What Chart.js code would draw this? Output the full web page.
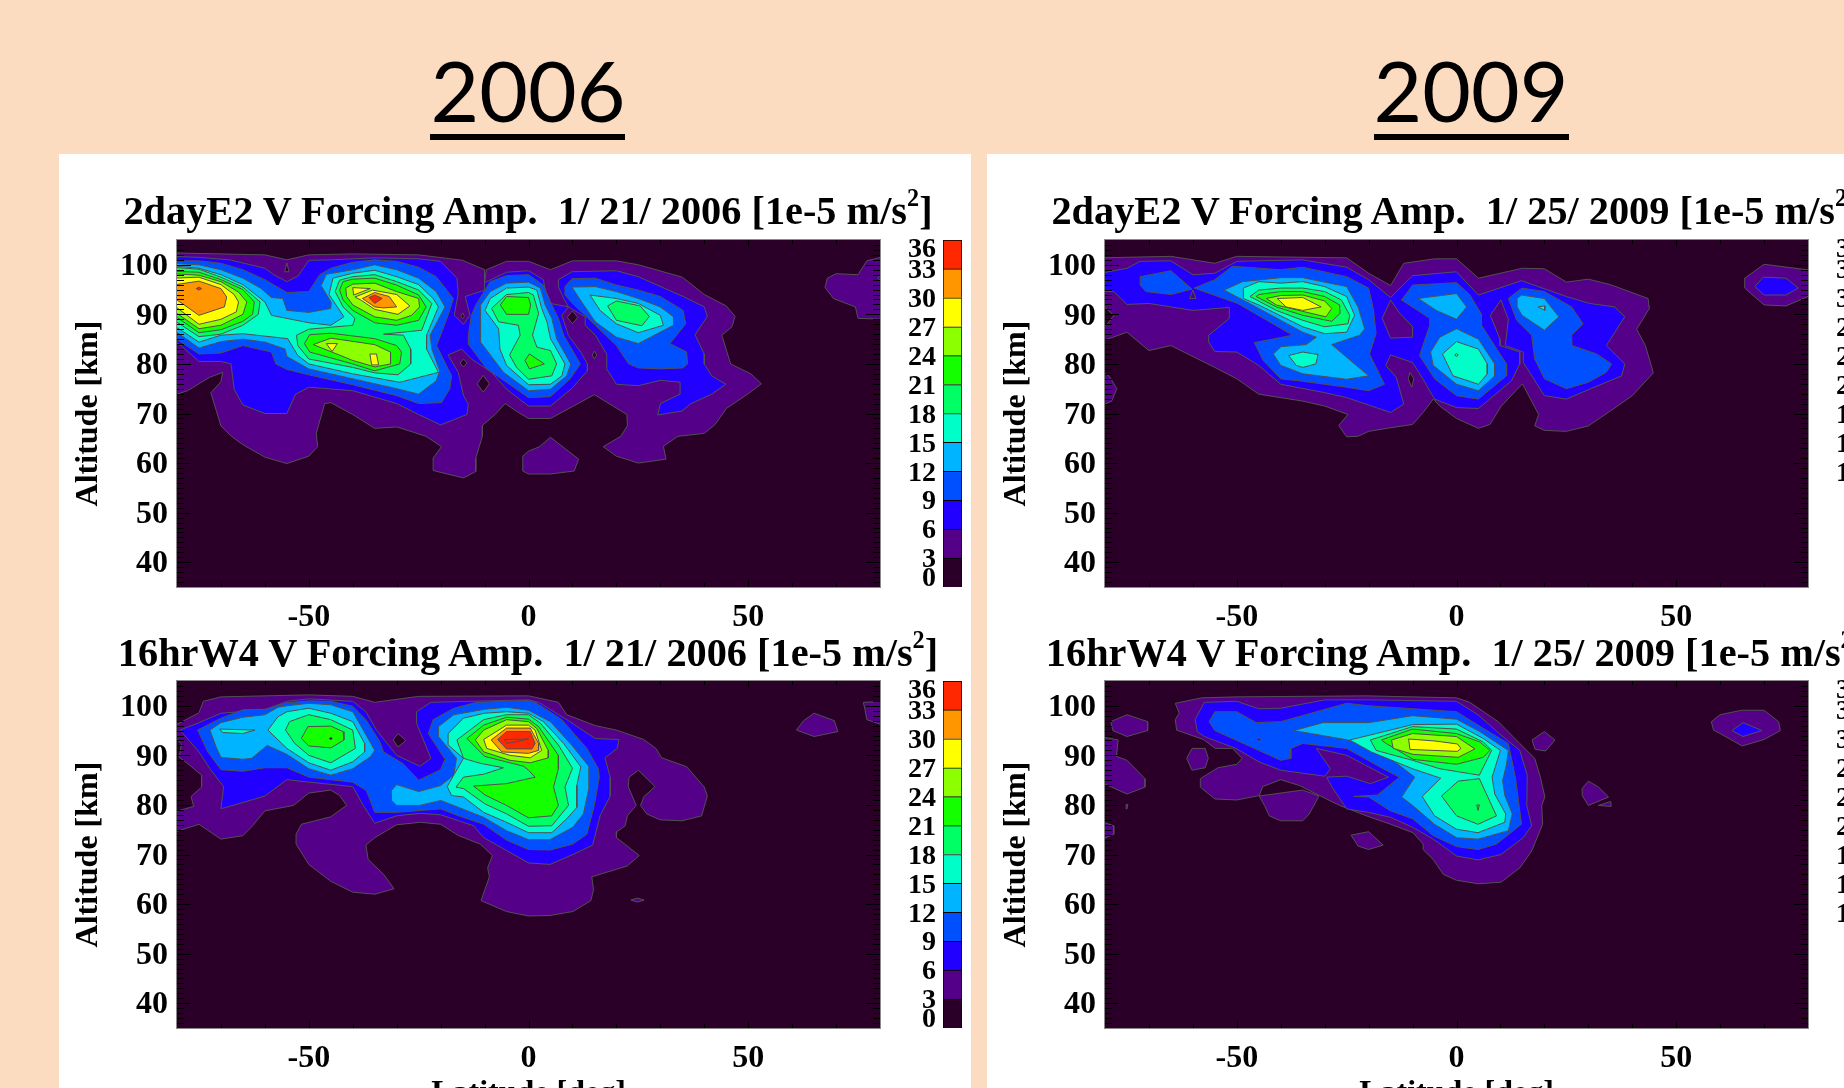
<!DOCTYPE html>
<html>
<head>
<meta charset="utf-8">
<title>V Forcing Amp</title>
<script src="https://cdn.jsdelivr.net/npm/chart.js@4"></script>
<style>
  html, body { margin: 0; padding: 0; width: 1844px; height: 1088px; overflow: hidden; background: #fcdcc1; }
  .sheet { position: absolute; background: #fff; top: 154px; height: 934px; }
  canvas { position: absolute; }
  .year { position: absolute; width: 400px; top: 37px; text-align: center; font: 400 84px Lato, sans-serif; line-height: 105px; color: #000; }
  .rule { position: absolute; top: 134px; width: 195px; height: 6px; background: #000; }
  .title { position: absolute; width: 900px; text-align: center; white-space: pre; font: bold 40.3px "Liberation Serif", serif; line-height: 44px; color: #000; }
  .title sup { font-size: 60%; line-height: 0; vertical-align: 0.75em; }
</style>
</head>
<body>
<div class="sheet" style="left:59px;width:912px"></div>
<div class="sheet" style="left:987px;width:857px"></div>
<div class="year" style="left:328px">2006</div><div class="rule" style="left:430px"></div>
<div class="year" style="left:1271px">2009</div><div class="rule" style="left:1374px"></div>
<canvas id="p1" width="820" height="420" style="left:70px;top:230px"></canvas>
<canvas id="c1" width="80" height="367" style="left:890px;top:230px"></canvas>
<canvas id="p2" width="820" height="420" style="left:998px;top:230px"></canvas>
<canvas id="c2" width="80" height="367" style="left:1818px;top:230px"></canvas>
<canvas id="p3" width="820" height="444" style="left:70px;top:671px"></canvas>
<canvas id="c3" width="80" height="367" style="left:890px;top:671px"></canvas>
<canvas id="p4" width="820" height="444" style="left:998px;top:671px"></canvas>
<canvas id="c4" width="80" height="367" style="left:1818px;top:671px"></canvas>
<div class="title" style="left:78px;top:189px">2dayE2 V Forcing Amp.  1/ 21/ 2006 [1e-5 m/s<sup>2</sup>]</div>
<div class="title" style="left:1006px;top:189px">2dayE2 V Forcing Amp.  1/ 25/ 2009 [1e-5 m/s<sup>2</sup>]</div>
<div class="title" style="left:78px;top:631px">16hrW4 V Forcing Amp.  1/ 21/ 2006 [1e-5 m/s<sup>2</sup>]</div>
<div class="title" style="left:1006px;top:631px">16hrW4 V Forcing Amp.  1/ 25/ 2009 [1e-5 m/s<sup>2</sup>]</div>
<script>
// axis ticks and colour scale
const latTicks = [-50, 0, 50];
const altTicks = [40, 50, 60, 70, 80, 90, 100];
const levelColors = ['#2b0028', '#550088', '#2200ff', '#0050ff', '#00b4ff', '#00ffc8', '#00ff64', '#14ff00', '#8cff00', '#ffff00', '#ff9600', '#ff2800'];
const barBands = [3, 3, 3, 3, 3, 3, 3, 3, 3, 3, 3, 3];
const barLabels = ['0', '3', '6', '9', '12', '15', '18', '21', '24', '27', '30', '33', '36'];
// the 0 and 36 labels sit a bit inside the bar ends
const barLabelPos = [1.03, 3, 6, 9, 12, 15, 18, 21, 24, 27, 30, 33, 35.17];

// contours: [level, [lat, alt, lat, alt, ...]], drawn in this order
const p1Contours = [
  [1, [-81,102.4, -60,102, -55,101, -50,102, -40,102.2, -25,102, -15,100.9, -10,99, -10,96.3, -9.6,99, -5,100.7, 0,100.7, 5,99, 10,100.8, 20,100.8, 25,100, 35,97.5, 40,94, 45,91.7, 47,89.6, 46.3,87.5, 44,85.8, 46,80, 50.6,78, 53,76, 50,74, 45,71, 42.5,67.8, 40,66, 34,65.4, 30.7,63.4, 31.3,60.8, 25,60, 20,61.4, 17,63.3, 21,65.4, 22.5,67.5, 22.4,69.8, 15,73.8, 5,69, 0,69, -2.3,70.2, -5.3,72, -7.6,69.8, -10.5,67.6, -10.5,65.4, -12,61, -12,58.3, -14.8,57, -21.7,58.5, -21.7,61, -19.8,63.3, -23.3,65.4, -30,67.3, -35,67, -40,69.8, -45,72.2, -46.4,72, -48.3,66, -48,63.3, -50,61.4, -55,59.9, -60,61.2, -65,63.7, -67.6,65.4, -70,67.5, -72.3,74.2, -70,76.4, -69.6,78.3, -72.6,77.3, -77.6,74.6, -81,73.6]],
  [1, [5,65.2, 11.4,60.8, 10.4,58.4, 5,57.8, 0,57.8, -1.3,58.4, -1.3,61.4, 0,62.4, 2.5,63.3]],
  [1, [81,101.7, 77,100.8, 75,98, 70,98.2, 68,97.3, 67.5,95.4, 69.4,93.2, 74.4,91.5, 75,89.2, 81,89]],
  [2, [79.5,97.3, 81,99, 81,96]],
  [2, [-81,101.7, -75,101.5, -68,101, -60,99.3, -58,98, -55,96.6, -52.5,97.7, -50,100.9, -45,101, -35,101.4, -25,101.2, -20,100.7, -16.3,97.3, -16,94.2, -16.9,89.8, -14.8,88, -13.3,89.8, -14.4,93.6, -10,94.9, -10,96.4, -5,98.5, 0,98.8, 3.4,97, 3.8,94.9, 5,92.2, 9.1,91.5, 7.6,89.8, 9.1,85.7, 11.9,82.4, 13.4,80, 13.4,78.6, 9.9,75.1, 5,71.5, 0,71.5, -5,74.9, -8.4,78.3, -13,81, -15.2,83, -18.3,81.8, -16,78.3, -14.8,73.6, -13.7,71.9, -14,69.8, -20,67.7, -25,69.8, -30,72, -40,74.6, -50,75.3, -53,73.9, -55,70, -60,70, -65,71.7, -67,74.9, -67.7,80, -70,80.5, -75,80.5, -78.7,83.4, -81,85]],
  [2, [6.8,97, 9.9,98.6, 20,98.8, 25,97.6, 35.2,93.6, 40,91.5, 40.7,89.6, 37.9,85.9, 40,82, 40,80, 41.7,77.6, 44.9,75.9, 41.7,73.9, 37,72, 34.9,70.5, 29.4,69.7, 30,72, 34.5,73.9, 34.5,76.3, 30,76.7, 25,75.6, 20,75.9, 17.8,79, 17.8,82, 15.2,85.8, 12.9,87.8, 12.9,89.5, 9.1,91.5, 8,93.2, 6.8,95.6]],
  [3, [-81,100.8, -75,100.8, -70,100.3, -65,99, -60,97, -55,94.4, -50,94.6, -47.5,98, -45,99.3, -40,100.5, -35,101, -30,100.7, -25,99.5, -21,97.6, -17.1,93.2, -18.3,89.8, -20.9,83.7, -18.3,79, -17.5,77.6, -17.9,75, -19.8,72.2, -25,72, -30,73.6, -40,75.8, -50,77.8, -55,78.9, -57.5,80, -58.5,82.4, -60,82.7, -65,83.7, -70,82.2, -75,82, -81,85.5]],
  [3, [-8.7,96.6, -5,97.8, 0,98, 3.4,95.9, 5,92.5, 6.8,89.2, 8,85.8, 11.8,80, 9.5,77, 5,73.4, 0,73.2, -5,76.3, -9.5,79, -13.7,84, -13.7,85.8, -13,89.8, -12,91.9]],
  [3, [8.3,95.6, 9.9,97.2, 15.2,97.3, 20,95.9, 25,94.9, 30,93.6, 35.2,90.8, 35.8,88.1, 32.2,84.1, 36,82.4, 36.2,80, 35.2,79.2, 30,79, 25,79.2, 22.8,80, 20,83.7, 15.2,87.8, 10,92.2, 8.3,93.9]],
  [4, [-81,100.3, -75,100, -70,99, -65,97.3, -61,95.3, -58.5,93.4, -55.9,93.2, -55,90.8, -50,90.4, -45,91.2, -44.9,92.4, -47.2,95.8, -46,98.1, -40,99, -35,100, -30,99, -25,97.3, -21,94.6, -19,91.5, -22.4,85.8, -22,83, -20.2,78.6, -21,76.6, -25,73.9, -30,75, -40,77, -50,79, -55,81.5, -55.4,83, -60,84.4, -65,85, -70,84.5, -75,83.2, -81,87]],
  [4, [0,96.5, 2.7,95.3, 3.8,91.9, 5.3,89.2, 6.4,85.1, 9.6,80, 8.7,77.6, 5,74.9, 0,74.6, -5.7,78.3, -10.9,84.4, -10.9,91.9, -8.7,94.6, -5,96.3]],
  [4, [9.9,95.5, 15.2,95.6, 20,94.6, 25,93.2, 30,91.5, 33,89.5, 33,87.8, 25,84.1, 20,85.4, 15.2,88.5, 11.8,92.9]],
  [5, [-81,99.8, -75,99.3, -70,98, -65,96, -60,92.5, -58.5,89.8, -50,88.3, -45,87.8, -42,89.5, -45.4,94, -44.5,97.3, -40,98.3, -35,98.9, -30,97.6, -25,96, -21.7,93.2, -20.5,91.5, -23.2,85.8, -23.2,83, -20.5,78.3, -29.3,76.3, -40,78, -50,80, -52.5,81.7, -54.8,85.1, -65,86.1, -70,85.8, -75,84.4, -81,87.9]],
  [5, [0,95.5, 1.9,94.9, 3,91.2, 4.2,88.5, 5,85.1, 8.3,80, 7.6,77.6, 5,75.9, 0,75.8, -5,79.7, -6.5,83, -6.8,87.1, -9.9,90.8, -8.7,93.2, -5,95.3]],
  [5, [14,93.9, 20,93.2, 25,92.2, 30,89.8, 30.7,87.8, 25,86.3, 20,88.1, 16.3,90.8]],
  [6, [-81,99.5, -75,99.1, -70,97.5, -65,95.5, -61.1,92.5, -61.5,90, -65,87.8, -70,86, -75,85.5, -81,89]],
  [6, [-44,94.6, -43,96.9, -40,97.6, -35,98, -30,96.6, -25,94.9, -22,92.2, -24.3,86.8, -33,86, -28.5,85.8, -26.8,83, -26.8,80, -29.7,77.8, -35,78.2, -40,79.3, -50,81, -52.5,83.7, -52.8,85.8, -50,87, -40,87.8, -39.5,89.2, -42.2,91.5]],
  [6, [0,94.4, 1.1,93.9, 2.3,90.2, 0.9,85.8, 1.9,83.4, 5,82.7, 6.4,80, 5.3,77.6, 0,76.9, -2.7,79.3, -4.3,81.8, -1.9,85.8, -2.3,87.8, -6.8,88.5, -8.4,91.2, -5,94]],
  [6, [18,91.7, 20,92.7, 25.4,91.7, 27.5,89.6, 25.8,87.7, 20,88.8]],
  [7, [-81,98.7, -75,98.5, -70,97, -65,95, -62.4,92.5, -62.8,90, -65,88.6, -70,86.9, -75,86.3, -81,90]],
  [7, [-43,94.9, -42.2,96.6, -40,97.1, -35,97.3, -30,95.9, -25,93.9, -23.3,91.5, -25,88.8, -30,87.8, -35,88.3, -40,90.8, -42.2,92.9]],
  [7, [-51,84.1, -49.8,85.9, -45,86.2, -35,85.1, -30,83.7, -28.9,82.4, -29.3,80, -35,78.6, -40,80, -49.8,82.4]],
  [7, [-5,93.6, 0,93.4, 0.5,91.9, 0,90, -5,90, -6.4,91.9]],
  [7, [0.2,82, 3.6,80, 0.2,79, -0.8,80.7]],
  [8, [-81,98.2, -75,97.9, -70,96.6, -66,94.5, -64.1,92.5, -65,90, -70,87.8, -75,87.1, -81,90.8]],
  [8, [-41.6,95.3, -40,96.1, -35,96.3, -30,94.6, -25,93.2, -24.8,91.5, -26.6,89.8, -30,88.8, -35,89.5, -40,91.9, -41.4,93.6]],
  [8, [-49,83.9, -45,85.2, -35,83.9, -31.4,82.4, -31.4,80, -35,79.4, -40,80.7]],
  [9, [-81,97.3, -75,97.5, -70,96, -67,94, -66,92.5, -66.5,90.5, -70,89, -75,88, -81,92]],
  [9, [-40,95.4, -36,95.2, -39.8,93.9]],
  [9, [-39.5,93.5, -35.5,94.9, -30,94, -27,91.7, -29.7,90, -35,91, -38,92.8]],
  [9, [-46,84.1, -43.5,84.1, -44.7,82.5]],
  [9, [-36.1,82, -34.6,82, -34.1,79.8, -35.7,79.8]],
  [10, [-81,95.9, -75,96.7, -70,95.2, -68.7,93.5, -69.2,91.5, -75,89.8, -78.5,92, -81,93.5]],
  [10, [-37.8,93.2, -35,94.4, -31.7,93.6, -30,91.5, -33,91.3, -35,91.5]],
  [11, [-36.3,93.4, -35,93.9, -33.3,93.2, -35,92.2]],
  [11, [-75.6,95.2, -75,95.5, -74.4,95.2, -75,94.9]],
  [0, [-55,100.4, -54.5,98.6, -55.5,98.6]],
  [0, [-14.8,81, -14,80.2, -14.8,79.4, -15.6,80.2]],
  [0, [-10.3,77.7, -8.9,76, -10.3,74.3, -11.7,76]],
  [0, [10,90.7, 11.2,89.4, 10,88.1, 8.8,89.4]],
  [0, [15,82.6, 15.5,81.8, 15,81, 14.5,81.8]],
  [0, [-15,90.3, -14.6,89.6, -15,89.2, -15.4,89.6]]
];

const p2Contours = [
  [1, [-81,101.4, -65,101.7, -55,100.3, -50,101.7, -25,101.4, -20,98.3, -15,95.8, -12,100.3, -5,101.2, 0,101.2, 5,97.3, 15,99.3, 20,99.2, 25,96.5, 30,97.1, 35,96, 43.6,93.2, 43.9,91.2, 41,87, 43,83.7, 44.8,78.2, 40,73.6, 35,70.5, 30,67.5, 25,66.4, 20,66.6, 17.8,67.5, 18.7,69.8, 15,76, 10.2,71.5, 7.6,67.8, 5,67, 0,69, -3.8,71.5, -5.3,72.9, -7.6,70.2, -10,67.8, -15.2,67.1, -20,66.4, -22.4,65.4, -25,65.3, -26.8,67.6, -24.7,69.8, -30,71.5, -35,72.5, -45,73.9, -50,77, -55,79.3, -65,83.7, -70,82.7, -75,86.4, -81,84.5]],
  [1, [-81,78.6, -79,77.5, -77.3,75, -78.5,72.5, -81,71.5]],
  [1, [65.6,97.3, 70,100.1, 79.7,99, 81,99, 81,93.5, 80,93.6, 75,91.7, 70,91.9, 65.6,95.3]],
  [2, [69.8,97.5, 75,97.3, 77.8,95.3, 75,93.9, 70,93.9, 67.9,95.6]],
  [0, [-81,92.2, -79.5,91, -78,89.8, -79.5,88, -81,87.6]],
  [0, [-10.6,78.3, -9.7,77, -10.2,75.3, -11,77]],
  [2, [-81,98.3, -75,99.3, -72,100.7, -65,100.8, -60,98, -55,98.3, -50,100.7, -35,101, -25,99.5, -20,97, -15,93.4, -10,97.8, 0,98.6, 5,93.9, 14.8,96.8, 25,93.6, 30.3,92.2, 36,91.5, 38.3,89.5, 34.1,83.7, 38.3,80, 37.6,77.6, 30,74.8, 25,72.9, 20,73.6, 15.2,80.3, 15.2,82.4, 11.1,83.7, 11.8,89, 10.1,92.9, 7.7,89.8, 9.9,85, 9.9,83.7, 14.4,82.4, 14.4,80, 12.5,76.6, 5,71, 0,71.2, -5,72.9, -7.2,76.3, -10,80.3, -15,81.8, -16.1,79.7, -13.7,77.3, -12,71.9, -15,70.2, -25,73.2, -30,74.2, -40,75.9, -45,79.7, -50,82.4, -55,82.5, -56.4,84.4, -56.4,85.8, -51.7,89.2, -51.7,91.4, -60,90.8, -70,92.2, -75,92, -78,94.6, -81,94.6]],
  [1, [-15,92.9, -16.9,89.2, -15,85.2, -10,85.4, -10,87.5, -12.9,90.2]],
  [1, [-60,94.9, -60.7,93.2, -59.3,93.2]],
  [3, [-72,97.6, -65,98.8, -60.2,95.1, -65,94, -70.7,94.6, -72,95.9]],
  [3, [-59.7,95.3, -55,97, -51,99.7, -40,99, -35,99.5, -25,97.6, -20,95.3, -18.9,91, -18.3,86.1, -19.8,82, -16.4,75.9, -20,74.6, -25,75.3, -35,76.5, -40,77, -44,80.7, -46,84.3, -37.3,85.8, -49.8,92.2]],
  [3, [-12.5,92.9, -10,95.9, 0,96.4, 3,94, 5.7,90, 5.7,87.8, 9.9,82, 11.4,80, 11.4,77.6, 5,72.9, 0,73.6, -5,77, -8.4,81.7, -6.1,87.8, -6.1,89.2]],
  [3, [11.8,93.2, 14.9,95.3, 20,94.6, 26.2,91.5, 28.8,88.1, 26.2,85.8, 26.3,83.7, 31.9,82, 35.3,80, 34.1,78.3, 30,76.3, 25,75, 20,77, 17.8,81, 17.1,85.8, 13.7,88.8]],
  [4, [-52.9,94.9, -48.7,96.6, -40,97.4, -35,97.4, -25,95.6, -22.4,91.5, -20.9,87.1, -22,85.8, -28.4,83.9, -20,77.6, -25,76.9, -35,78, -40,79.7, -41.7,82, -39.9,83.5, -34.2,83.9, -31.9,85.4, -35,86.4, -45,91.2]],
  [4, [-8.7,93.2, 0,94.2, 2.3,91.5, 0,89, -4.6,90.8]],
  [4, [0,87.1, 5,85, 8.7,80, 8.7,77.6, 5,74.6, 0,75.9, -5.3,79.7, -5.9,82.4, -3.8,85.4]],
  [4, [13.8,93.2, 14.8,93.9, 20,93.2, 23.3,89.5, 20,86.8, 14.9,89.8, 13.8,91.5]],
  [5, [-48.5,95.3, -45,96.6, -40,96.3, -35,96.6, -30,95.6, -25,93.6, -23.2,89.8, -25,86.4, -30,86.1, -35,87.5, -45,91.9, -48.5,93.2]],
  [5, [-38.2,81.7, -35,82.4, -31.5,81.9, -32,80, -35,79.3, -36.5,79.7]],
  [5, [0,84.5, 5,83, 7,80, 7,78, 5,75.9, -0.8,77.6, -3.2,82]],
  [5, [18.6,91.5, 20.1,91.7, 20.1,90.8]],
  [6, [-47,93.6, -45,94.9, -40,95.3, -35,95.3, -30,94.6, -26.2,92.9, -24.3,89.8, -24.7,88.1, -30,87.5, -35,88.8, -41,90.8]],
  [6, [-0.4,81.8, 0,82.1, 0.4,81.8, 0,81.5]],
  [7, [-45.6,93.6, -45,94, -40,94.6, -35,94.6, -30,93.6, -26.6,91.9, -26.5,90.2, -28.4,88.6, -35,89.8, -41,91.5]],
  [8, [-43.3,93.2, -40,93.8, -35,93.9, -30,92.7, -28.4,91.2, -29.7,89.5, -35,90.6, -41,91.9]],
  [9, [-40.8,93.2, -35,93.4, -30.8,91.5, -35,90.8, -38.8,91.5]]
];

const p3Contours = [
  [1, [-81,95.8, -75,98.6, -74,100.9, -70,101.8, -50,102.2, -40,101.9, -35,100.7, -25,101.9, 0,102, 6.8,100.7, 8.7,98.2, 15.2,96, 20,95.1, 26.2,93.2, 29,91.4, 30.3,89.5, 36,87.7, 40,83.6, 40.7,81.8, 39.4,77.8, 34.9,76.8, 29.9,77, 26.9,78.2, 25.5,79.9, 26.3,81.7, 28.8,83.7, 25,87, 22.9,85.6, 22.7,83.7, 24.5,79.9, 22.5,77.8, 22,75.8, 20.1,74.6, 20,73.4, 25.2,69.8, 22.5,67.7, 14.4,65.5, 14.8,62.9, 14.2,60.7, 10.1,58.5, 4.9,57.7, 0,57.6, -5,58.5, -10.8,60.7, -8.9,65.5, -9.3,67.3, -8.2,69.8, -11,72.1, -15.9,73.8, -20,76.1, -24.6,76.5, -30,76, -35,73.4, -37,71.9, -36.5,69, -33,66, -30.6,63.1, -34.9,62, -40,62.4, -45,64.6, -50,68, -52.9,72.1, -52.9,74.1, -51.7,76.1, -45,77.6, -41.4,79.9, -43,81.9, -45,83, -50,82.4, -53.5,79.9, -60,78.8, -62.8,75.8, -65,73.8, -70,73.1, -75,76.1, -81,74.4]],
  [0, [-81,94, -79,92.3, -79.5,89.6, -77.5,88.3, -74.4,86, -74.4,83.6, -76.8,81.7, -76.2,79.7, -81,78.5]],
  [0, [-29.7,94.4, -27.9,93, -29.7,91.7, -30.8,93.1]],
  [1, [76.2,100.7, 81,100.9, 81,96, 77,97.2, 76.6,99.2]],
  [1, [61,95.1, 62.6,97, 65,98.5, 69.6,97, 70.4,94.8, 65,93.8]],
  [1, [23.3,60.8, 24.8,61.2, 26.3,60.8, 24.8,60.4]],
  [2, [-79.3,95.1, -75,96.6, -70,98.5, -60,99.2, -55,100.9, -50,101.4, -40,100.9, -37,98.8, -34.6,95.1, -30,90, -24.7,87.8, -22.2,89.4, -25.5,96.5, -25.5,98.8, -22.2,100.7, 0,101.2, 2.3,100.7, 8.7,97.2, 15.2,93.4, 20.6,93.2, 20.2,91.4, 17.4,89.5, 18.6,85.6, 18.6,81.8, 16.3,77.8, 14.6,71.9, 10.1,70, 4.9,68, 0,68.3, -5,70.8, -10.2,73.4, -12.5,75.8, -15.9,76.8, -20,78, -24.6,78.3, -30,77.8, -35,76.3, -37.6,79.9, -40,83.7, -50,84.6, -55,85.1, -60,81.8, -69.2,79.4, -70,79.3, -69.4,83.7, -72.5,87.3, -75,90.7]],
  [3, [-75.3,95.1, -70,97.5, -65,99.2, -60,99.3, -55,100.6, -50,101, -45,100.9, -40,99.9, -37,97.2, -33.8,92.7, -33,90.7, -28.5,88.3, -25,85, -20,87.1, -19,89.2, -22.8,94.4, -21.7,97.2, -17,99.5, -11.8,100.7, 0,101.1, 1.9,100.5, 7.6,97.2, 13.3,91.4, 15.9,87.3, 16.1,85.6, 15,80, 13.3,74.1, 10.1,72.1, 4.9,70.9, 0,71, -5,72.9, -10.2,76.1, -15.9,77.8, -20,79.2, -30,78.5, -35,78.5, -36.9,82.9, -40,84.6, -50,85.6, -55,87.5, -60,87.5, -65,86.8, -70,87.1, -73,90.7]],
  [4, [-72.5,95.1, -70,96.6, -65,97.7, -60,98.2, -57,99.7, -55,100, -50,100.5, -45,100.2, -40,98.8, -37.6,95.1, -35,91, -36,89.7, -40,87.3, -45,86, -50,87.3, -55,90.2, -59.5,92, -60.3,91.4, -63,89.4, -65,89.2, -70,89.6, -71.1,91.7]],
  [4, [-31.2,82.9, -30,84.1, -25,82.7, -20,83.9, -17,86, -16.4,89.4, -20.5,93.8, -20.5,95.8, -17,98.2, -10,99.3, -5,99.7, 0,99.1, 5,96.8, 10,91.9, 13.8,87.7, 13.8,83.6, 12.5,78.2, 10.1,75.5, 4.9,73, 0,73, -5,74.8, -10.2,77.5, -15.9,79.5, -20,80.9, -24.7,79.9, -30,79.9, -31.2,80.9]],
  [5, [-70.3,95.3, -62.3,95.1, -65,94.4, -69.6,94.6]],
  [5, [-59.3,95.1, -57,97.8, -55,98.8, -50,99.5, -45,98.5, -40,96.8, -37.3,92.4, -37.3,90.7, -40,88.7, -45,87, -50,88.5, -55,91.4]],
  [5, [-18.5,83.7, -14.8,89.4, -18.3,92.1, -18.3,94.4, -14.8,97.5, -10,98.5, -5,98.8, 0,98.5, 3.4,96.8, 8,92.4, 11.9,87.7, 11,83.9, 11,79.5, 8.7,77.2, 5.3,74.4, 0,74.4, -5,76.5, -10.2,78.5, -14.8,81.6, -17.5,81.9]],
  [6, [-55.3,95.1, -54.4,96.8, -50,98.2, -45,97.2, -40,95.1, -39.4,91.4, -45,88.5, -50,90, -53.2,92.4]],
  [6, [-16.3,93.1, -10.2,97.2, -5,98.2, 0,98.2, 2.7,96.5, 6.8,92.1, 10,87.4, 8.3,83.6, 9.1,79.9, 5.3,75.8, 0,75.7, -5,78.2, -9.9,80.2, -14.8,83.3, -16.5,83.6, -14.8,85.6, -10.2,86.2, -5.7,87.5, -11,88.4, -14.8,89.4]],
  [7, [-51.7,93.4, -50.2,95.8, -45,95.9, -42.2,94.8, -42,93.1, -45,91.5, -50,91.9]],
  [7, [-14,93.4, -10.2,96.1, -5,97.7, 0,97.3, 2.3,95.8, 6.8,90, 6.8,87.3, 5.7,83.6, 6.8,79.9, 5.3,77.8, 0,77.4, -5,79.9, -9.9,82, -12.5,83.8, -5,84.3, 1.5,85.6, 0,87, -1.1,87.8, -10,89.8]],
  [0, [-45.3,93.4, -45,93.7, -44.7,93.4, -45,93.1]],
  [8, [-12.1,93.1, -10.2,95.1, -5,97.2, 0,96.8, 1.9,95.4, 4.5,91, 4.5,89.5, 0.4,88.5, -4.2,89, -10.2,90.7]],
  [9, [-10.2,93.2, -5,96.1, 0,96.1, 1.5,95.1, 3,91, 0.4,89.5, -4.2,90, -9.5,91.4]],
  [10, [-8.5,93.1, -5,95.5, 0.4,95.5, 2.3,92.4, 2.3,91, 0,90.4, -6.1,90.7]],
  [11, [-7,93.2, -5,94.8, 0.4,94.8, 1.5,92.4, 0.8,91.3, -5,91.3]],
  [11, [-5.5,93.2, 0,93.3, -4.8,92.4]]
];

const p4Contours = [
  [1, [-64,100.5, -58,101.6, -50,101.8, -20.5,102, 0,101.6, 3,100.7, 9.5,96.8, 14.4,92.4, 17.8,89.4, 19.1,85.6, 20.1,81.6, 19.4,79.9, 19.6,76.1, 17.1,70.7, 14.4,67.3, 10.1,64.4, 4.9,64.1, 0,64.8, -3,66, -5.3,69, -7.6,71, -7.6,72.1, -9.9,74.4, -15,76.1, -20.5,77.8, -26.6,79.9, -31.2,81.9, -35.7,83.9, -40,85.1, -44.1,83.7, -44.9,81.9, -50,81, -55,81.2, -58.3,83.6, -58.3,85.3, -54.3,87.5, -50,88.2, -48.8,89.4, -51,91.4, -54.9,91.4, -57.6,93.2, -63.7,95.1, -64,97.2, -63.1,98.5]],
  [1, [-44.9,81.8, -35,83, -31.3,81.8, -33.5,78.2, -35,76.8, -40,76.8, -42.6,77.8, -43.7,79.9]],
  [1, [-78.7,96.8, -75,98.2, -70.3,96.8, -70.3,95, -75,93.8, -78.2,95]],
  [1, [-81,93.8, -77,93.1, -77.4,89.8, -75,89, -70.9,85.3, -70.9,83.6, -75,82.2, -81,84.6]],
  [1, [-81,76.7, -78,75.8, -78,74.1, -81,72.9]],
  [1, [-75.2,80.1, -74.8,80.1, -75,79.2]],
  [1, [-60.2,91.4, -57.2,91.4, -56.5,89.4, -57.2,87.5, -60.2,87, -61.4,89.4]],
  [1, [-24,73.9, -20,74.6, -16.7,71.9, -20,71, -22.4,71.7]],
  [1, [17.2,93.1, 20,94.8, 22.4,93.1, 20.3,90.9, 17.9,91.2]],
  [1, [28.6,83.3, 30,84.8, 32.3,83.6, 34.6,81.6, 30,79.9, 28.6,81.9]],
  [1, [32.3,79.9, 35.1,80.7, 35.2,79.7]],
  [1, [58,96.8, 60,98.2, 64.9,99.1, 70,99.1, 73.3,96.8, 73.7,95, 70,93.2, 65,91.9, 60,94.4, 58.5,95.1]],
  [2, [62.7,95, 65.2,96.6, 69.5,95, 65.2,93.8]],
  [2, [-57.4,100.7, -50,100.9, -45,99.4, -40,99.5, -30,101.2, -20,101.2, 0,100.9, 4.9,98.2, 10.1,94.1, 14.4,91, 16.1,86, 16,79.9, 17.1,75.8, 15.2,73.4, 10.1,70, 4.9,68.9, 0,69.7, -5.3,73.1, -10,75.5, -15,77.5, -20,78.5, -25,79.2, -28.1,83.3, -29.6,85.6, -25,85.8, -19.6,84.3, -15.5,85.6, -25,90, -31.9,91.4, -28.7,87.3, -30,85.8, -40,87, -45,88.7, -50.2,91.4, -57.4,93.8, -59,94.8, -59.5,97.2]],
  [3, [-56.3,96.8, -55,98.8, -50,98.8, -45.6,96.6, -40,96.8, -25,100.5, -20,100, 0,98.8, 4.9,96.1, 11.8,92.4, 13.4,85.6, 14.8,76.1, 9.1,72.1, 4.9,71, 0,71.6, -5.3,73.8, -10,77.2, -15,78.8, -20,81.6, -23.4,81.7, -18,82, -13,85.6, -16.7,87.3, -25,91.4, -35,92.4, -37.7,91.4, -37.7,89.4, -40,89, -50,93, -55,95]],
  [2, [-45.5,93.2, -45,93.5, -44.5,93.2, -45,92.9]],
  [4, [-37,95, -30.4,96.6, -20,96.6, -10,98, 0,97.3, 5.3,94.8, 11.8,91, 11.4,88.3, 10.5,84.9, 11,81.9, 12.7,78.2, 11.8,74.8, 4.9,73.1, 0,73.4, -5,76.1, -10,79.9, -12.5,81.6, -9.5,85.6, -16,90, -24.7,93.1]],
  [5, [-24.3,93.1, -15,95.1, -10,96.2, 0,96.3, 6.1,93.4, 10,91, 8.1,85.6, 8.7,82.2, 11.2,78.2, 11,76.5, 4.9,74.4, 0,75.1, -5,77.8, -7.8,81.7, -3.6,85.4, -10,87.3, -19.4,90.7]],
  [6, [-19.6,93.1, -10,95.8, 0,95.3, 6.1,92.7, 8,91, 5.2,86, -3.8,87.3, -10,89, -18.3,91]],
  [6, [0.4,84.8, 5.2,85.3, 9.1,77.8, 4.9,76.1, 0,77.8, -3.4,81.8]],
  [7, [-17.1,93.1, -10,95.3, 0,94.4, 5.3,92.7, 7.6,91, 6.1,89.6, 0,88.2, -9.9,89.2, -16,92.4]],
  [7, [4.6,80, 5.2,80, 4.9,78.9]],
  [8, [-14.8,93.1, -10,94.4, 0,93.8, 4.2,91.3, 0.4,89.6, -9.9,90.2, -14.4,91.4]],
  [9, [-10.9,93.3, -4.9,92.9, 0.2,92.3, 1,91.4, 0.2,90.8, -10.6,91.2]]
];

const labelFont = { family: '"Liberation Serif", serif', weight: 'bold', size: 32 };

// dark plot background and the tick marks IDL draws inside the frame
const plotFrame = {
  id: 'plotFrame',
  beforeDatasetsDraw(chart) {
    const { ctx, chartArea: a } = chart;
    ctx.save();
    ctx.fillStyle = levelColors[0];
    ctx.fillRect(a.left, a.top, a.right - a.left, a.bottom - a.top);
    ctx.restore();
  },
  afterDatasetsDraw(chart) {
    const { ctx, chartArea: a, scales } = chart;
    ctx.save();
    ctx.strokeStyle = '#000';
    ctx.lineWidth = 1;
    ctx.beginPath();
    for (let alt = 36; alt <= 104; alt++) {
      const y = Math.round(scales.y.getPixelForValue(alt)) + 0.5;
      const len = alt % 10 === 0 ? 14 : 7;
      ctx.moveTo(a.left, y); ctx.lineTo(a.left + len, y);
      ctx.moveTo(a.right, y); ctx.lineTo(a.right - len, y);
    }
    for (let lat = -70; lat <= 70; lat += 10) {
      const x = Math.round(scales.x.getPixelForValue(lat)) + 0.5;
      const len = lat % 50 === 0 ? 7 : 4;
      ctx.moveTo(x, a.top); ctx.lineTo(x, a.top + len);
      ctx.moveTo(x, a.bottom); ctx.lineTo(x, a.bottom - len);
    }
    ctx.stroke();
    ctx.strokeStyle = '#8a8a8a';
    ctx.strokeRect(a.left - 0.5, a.top - 0.5, a.right - a.left + 1, a.bottom - a.top + 1);
    ctx.restore();
  }
};

function contourDatasets(contours) {
  return contours.map(([level, flat], i) => {
    const points = [];
    for (let k = 0; k < flat.length; k += 2) points.push({ x: flat[k], y: flat[k + 1] });
    points.push(points[0]);
    return {
      data: points,
      showLine: true,
      fill: 'shape',
      backgroundColor: levelColors[level],
      borderColor: '#505050',
      borderWidth: 1,
      pointRadius: 0,
      tension: 0,
      order: contours.length - i
    };
  });
}

// the scale reserves half a label above and below by default, that would shrink the plot
function noLabelPadding(s) {
  s.paddingTop = 0;
  s.paddingBottom = 0;
  s.paddingLeft = 0;
  s.paddingRight = 0;
}

function contourPlot(id, contours, showLatTitle) {
  const canvas = document.getElementById(id);
  new Chart(canvas, {
    type: 'scatter',
    data: { datasets: contourDatasets(contours) },
    plugins: [plotFrame],
    options: {
      responsive: false,
      animation: false,
      events: [],
      layout: { padding: { left: 0, top: 10, right: 10, bottom: 0 } },
      plugins: { legend: { display: false }, tooltip: { enabled: false } },
      scales: {
        x: {
          type: 'linear', min: -80, max: 80,
          grid: { display: false, drawTicks: false }, border: { display: false },
          afterBuildTicks: s => { s.ticks = latTicks.map(v => ({ value: v })); },
          afterFit: s => { s.height = canvas.height - 10 - 347; noLabelPadding(s); },
          ticks: { color: '#000', font: labelFont, padding: 12, maxRotation: 0, autoSkip: false },
          title: { display: showLatTitle, text: 'Latitude [deg]', color: '#000', font: labelFont, padding: { top: 0, bottom: 2 } }
        },
        y: {
          type: 'linear', min: 35, max: 105,
          grid: { display: false, drawTicks: false }, border: { display: false },
          afterBuildTicks: s => { s.ticks = altTicks.map(v => ({ value: v })); },
          afterFit: s => { s.width = 107; noLabelPadding(s); },
          ticks: { color: '#000', font: labelFont, padding: 9, labelOffset: 2, autoSkip: false },
          title: { display: true, text: 'Altitude [km]', color: '#000', font: labelFont, padding: 0 }
        }
      }
    }
  });
}

function colorBar(id) {
  const datasets = barBands.map((band, i) => ({
    data: [band],
    backgroundColor: levelColors[i],
    borderColor: '#000',
    borderWidth: 1,
    barPercentage: 1,
    categoryPercentage: 1
  }));
  new Chart(document.getElementById(id), {
    type: 'bar',
    data: { labels: ['amp'], datasets },
    options: {
      responsive: false,
      animation: false,
      events: [],
      layout: { padding: { left: 0, top: 10, right: 8, bottom: 10 } },
      plugins: { legend: { display: false }, tooltip: { enabled: false } },
      scales: {
        x: { stacked: true, display: false },
        y: {
          stacked: true, min: 0, max: 36,
          grid: { display: false, drawTicks: false }, border: { display: false },
          afterBuildTicks: s => { s.ticks = barLabelPos.map(v => ({ value: v })); },
          afterFit: s => { s.width = 53; noLabelPadding(s); },
          ticks: {
            color: '#000', padding: 7, labelOffset: 2, autoSkip: false,
            font: { family: '"Liberation Serif", serif', weight: 'bold', size: 28 },
            callback: (value, i) => barLabels[i]
          }
        }
      }
    }
  });
}

contourPlot('p1', p1Contours, false);
contourPlot('p2', p2Contours, false);
contourPlot('p3', p3Contours, true);
contourPlot('p4', p4Contours, true);
['c1', 'c2', 'c3', 'c4'].forEach(colorBar);
</script>
</body>
</html>
